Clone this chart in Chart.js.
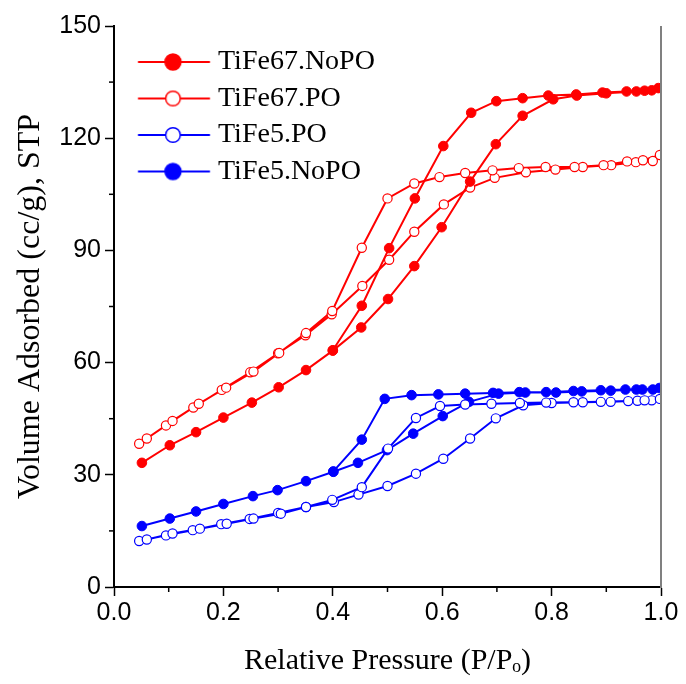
<!DOCTYPE html>
<html>
<head>
<meta charset="utf-8">
<script src="https://cdn.jsdelivr.net/npm/chart.js@4.4.1/dist/chart.umd.min.js"></script>
<style>
  html, body { margin: 0; padding: 0; background: #fff; }
  #wrap { width: 686px; height: 684px; }
</style>
</head>
<body>
<div id="wrap"><canvas id="c" width="686" height="684"></canvas></div>
<script>
// ---------------- DATA ----------------
const seriesNames = ['TiFe67.NoPO', 'TiFe67.PO', 'TiFe5.PO', 'TiFe5.NoPO'];

// TiFe67.NoPO  (red, filled)
const fe67NoPO_adsX = [0.051,0.102,0.150,0.200,0.252,0.301,0.351,0.400,0.452,0.501,0.549,0.599,0.651,0.698,0.747,0.803,0.846,0.900,0.955,0.983,0.995];
const fe67NoPO_adsY = [33.2,37.9,41.4,45.3,49.3,53.4,58.0,63.2,69.4,77.0,85.8,96.2,108.4,118.4,126.0,130.4,131.4,132.0,132.5,132.8,133.4];
const fe67NoPO_desX = [0.970,0.937,0.893,0.845,0.794,0.747,0.699,0.653,0.602,0.550,0.503,0.453,0.400];
const fe67NoPO_desY = [132.7,132.5,132.2,131.7,131.4,130.7,129.9,126.8,117.9,103.9,90.6,75.2,63.3];

// TiFe67.PO  (red, open)
const fe67PO_adsX = [0.046,0.095,0.145,0.197,0.249,0.300,0.350,0.398,0.454,0.503,0.549,0.603,0.651,0.696,0.753,0.807,0.857,0.909,0.954,0.985,0.998];
const fe67PO_adsY = [38.3,43.2,48.0,52.7,57.4,62.5,67.3,72.9,80.5,87.5,95.0,102.3,106.8,109.4,110.9,111.6,112.3,112.8,113.6,113.9,115.5];
const fe67PO_desX = [0.967,0.938,0.895,0.842,0.789,0.740,0.692,0.642,0.595,0.549,0.500,0.453,0.399,0.351,0.302,0.255,0.205,0.155,0.107,0.060];
const fe67PO_desY = [114.1,113.8,112.8,112.3,112.3,112.0,111.4,110.7,109.6,107.9,103.9,90.7,73.8,67.9,62.6,57.6,53.3,49.0,44.4,39.7];

// TiFe5.PO  (blue, open)
const fe5PO_adsX = [0.046,0.095,0.144,0.196,0.248,0.300,0.351,0.402,0.447,0.500,0.552,0.602,0.651,0.698,0.748,0.800,0.857,0.908,0.957,0.983,0.998];
const fe5PO_adsY = [12.3,13.8,15.2,16.8,18.2,19.8,21.4,22.7,24.7,27.0,30.3,34.3,39.7,45.1,48.6,49.2,49.4,49.5,49.8,49.9,50.3];
const fe5PO_desX = [0.970,0.940,0.890,0.840,0.790,0.742,0.690,0.642,0.596,0.552,0.501,0.453,0.399,0.351,0.305,0.255,0.206,0.157,0.107,0.060];
const fe5PO_desY = [49.9,49.7,49.5,49.4,49.3,49.2,49.0,48.8,48.4,45.2,37.0,26.7,23.3,21.4,19.6,18.3,16.9,15.6,14.3,12.7];

// TiFe5.NoPO  (blue, filled)
const fe5NoPO_adsX = [0.051,0.102,0.150,0.200,0.254,0.299,0.351,0.401,0.446,0.499,0.547,0.601,0.649,0.703,0.752,0.808,0.855,0.908,0.955,0.985,0.997];
const fe5NoPO_adsY = [16.3,18.3,20.2,22.2,24.3,25.9,28.3,30.8,33.2,36.6,41.0,45.7,49.5,51.7,52.0,52.0,52.3,52.5,52.8,52.8,53.2];
const fe5NoPO_desX = [0.966,0.935,0.890,0.840,0.790,0.741,0.693,0.642,0.593,0.544,0.495,0.453,0.401];
const fe5NoPO_desY = [52.8,52.8,52.6,52.4,52.1,52.1,51.9,51.7,51.5,51.3,50.3,39.4,30.9];

// axis ticks
const xMajorTicks = [0.0, 0.2, 0.4, 0.6, 0.8, 1.0];
const xMinorTicks = [0.1, 0.3, 0.5, 0.7, 0.9];
const yMajorTicks = [0, 30, 60, 90, 120, 150];
const yMinorTicks = [15, 45, 75, 105, 135];

// ---------------- BUILD ----------------
function pts(ax, ay, dx, dy) {
  const out = [];
  ax.forEach((x, i) => out.push({ x: x, y: ay[i] }));
  dx.forEach((x, i) => out.push({ x: x, y: dy[i] }));
  return out;
}

const RED = '#ff0000', BLUE = '#0000ff';
const specs = [
  { data: pts(fe67NoPO_adsX, fe67NoPO_adsY, fe67NoPO_desX, fe67NoPO_desY), color: RED, filled: true },
  { data: pts(fe67PO_adsX, fe67PO_adsY, fe67PO_desX, fe67PO_desY), color: RED, filled: false },
  { data: pts(fe5PO_adsX, fe5PO_adsY, fe5PO_desX, fe5PO_desY), color: BLUE, filled: false },
  { data: pts(fe5NoPO_adsX, fe5NoPO_adsY, fe5NoPO_desX, fe5NoPO_desY), color: BLUE, filled: true },
];

function legendIcon(color, filled) {
  const c = document.createElement('canvas');
  c.width = 100; c.height = 22;
  const g = c.getContext('2d');
  g.strokeStyle = color; g.lineWidth = 2;
  g.beginPath(); g.moveTo(24.75, 11); g.lineTo(96.75, 11); g.stroke();
  g.beginPath(); g.arc(59.75, 11, filled ? 8 : 7.3, 0, Math.PI * 2);
  g.fillStyle = filled ? color : '#fff'; g.fill();
  g.lineWidth = 1.5; g.stroke();
  return c;
}
const icons = specs.map(s => legendIcon(s.color, s.filled));

const datasets = specs.map((s, i) => ({
  label: seriesNames[i],
  data: s.data,
  showLine: true,
  borderColor: s.color,
  borderWidth: 2,
  pointRadius: s.filled ? 4.8 : 4.6,
  pointBorderWidth: s.filled ? 1 : 1.2,
  pointBorderColor: s.color,
  pointBackgroundColor: s.filled ? s.color : '#ffffff',
  pointStyle: 'circle',
  tension: 0
}));

const extras = {
  id: 'extras',
  afterDraw(chart) {
    const { ctx, chartArea, scales } = chart;
    ctx.save();
    // right frame line (grey)
    ctx.strokeStyle = '#808080';
    ctx.lineWidth = 2;
    ctx.beginPath();
    ctx.moveTo(chartArea.right, chartArea.top);
    ctx.lineTo(chartArea.right, chartArea.bottom + 1);
    ctx.stroke();
    // minor ticks
    ctx.strokeStyle = '#000';
    ctx.lineWidth = 1.5;
    xMinorTicks.forEach(v => {
      const px = scales.x.getPixelForValue(v);
      ctx.beginPath(); ctx.moveTo(px, chartArea.bottom); ctx.lineTo(px, chartArea.bottom + 5); ctx.stroke();
    });
    yMinorTicks.forEach(v => {
      const py = scales.y.getPixelForValue(v);
      ctx.beginPath(); ctx.moveTo(chartArea.left, py); ctx.lineTo(chartArea.left - 5, py); ctx.stroke();
    });
    ctx.restore();
  }
};

const defaultLabels = Chart.defaults.plugins.legend.labels.generateLabels;

new Chart(document.getElementById('c'), {
  type: 'scatter',
  data: { datasets },
  options: {
    responsive: false,
    animation: false,
    devicePixelRatio: 1,
    layout: { padding: { left: 0, top: 26, right: 25, bottom: 0 } },
    plugins: {
      tooltip: { enabled: false },
      legend: {
        position: 'chartArea',
        align: 'start',
        title: { display: true, text: ' ', font: { size: 10 }, padding: { top: 0, bottom: 27.5 } },
        labels: {
          usePointStyle: true,
          pointStyleWidth: 81.5,
          padding: 8.5,
          color: '#000',
          font: { family: '"Liberation Serif", "Times New Roman", serif', size: 28 },
          generateLabels(chart) {
            return defaultLabels(chart).map(l => Object.assign(l, { pointStyle: icons[l.datasetIndex] }));
          }
        }
      }
    },
    scales: {
      x: {
        type: 'linear',
        min: 0, max: 1,
        afterBuildTicks(scale) { scale.ticks = xMajorTicks.map(v => ({ value: v })); },
        afterFit(scale) { scale.height = 97; },
        grid: { drawOnChartArea: false, drawTicks: true, tickLength: 9, tickWidth: 1.5, tickColor: '#000' },
        border: { display: true, color: '#000', width: 2 },
        ticks: {
          color: '#000', padding: 2,
          font: { family: '"Liberation Sans", Arial, sans-serif', size: 25 },
          callback: v => Number(v).toFixed(1)
        },
        title: {
          display: true, text: 'Relative Pressure (P/Pₒ)', color: '#000',
          font: { family: '"Liberation Serif", "Times New Roman", serif', size: 30 },
          padding: { top: 0, bottom: 5 }
        }
      },
      y: {
        type: 'linear',
        min: 0, max: 150,
        afterBuildTicks(scale) { scale.ticks = yMajorTicks.map(v => ({ value: v })); },
        afterFit(scale) { scale.width = 114; },
        grid: { drawOnChartArea: false, drawTicks: true, tickLength: 9, tickWidth: 1.5, tickColor: '#000' },
        border: { display: true, color: '#000', width: 2 },
        ticks: {
          color: '#000', padding: 4,
          font: { family: '"Liberation Sans", Arial, sans-serif', size: 25 }
        },
        title: {
          display: true, text: 'Volume Adsorbed (cc/g), STP', color: '#000',
          font: { family: '"Liberation Serif", "Times New Roman", serif', size: 32 },
          padding: { top: 11, bottom: 0 }
        }
      }
    }
  },
  plugins: [extras]
});
</script>
</body>
</html>
